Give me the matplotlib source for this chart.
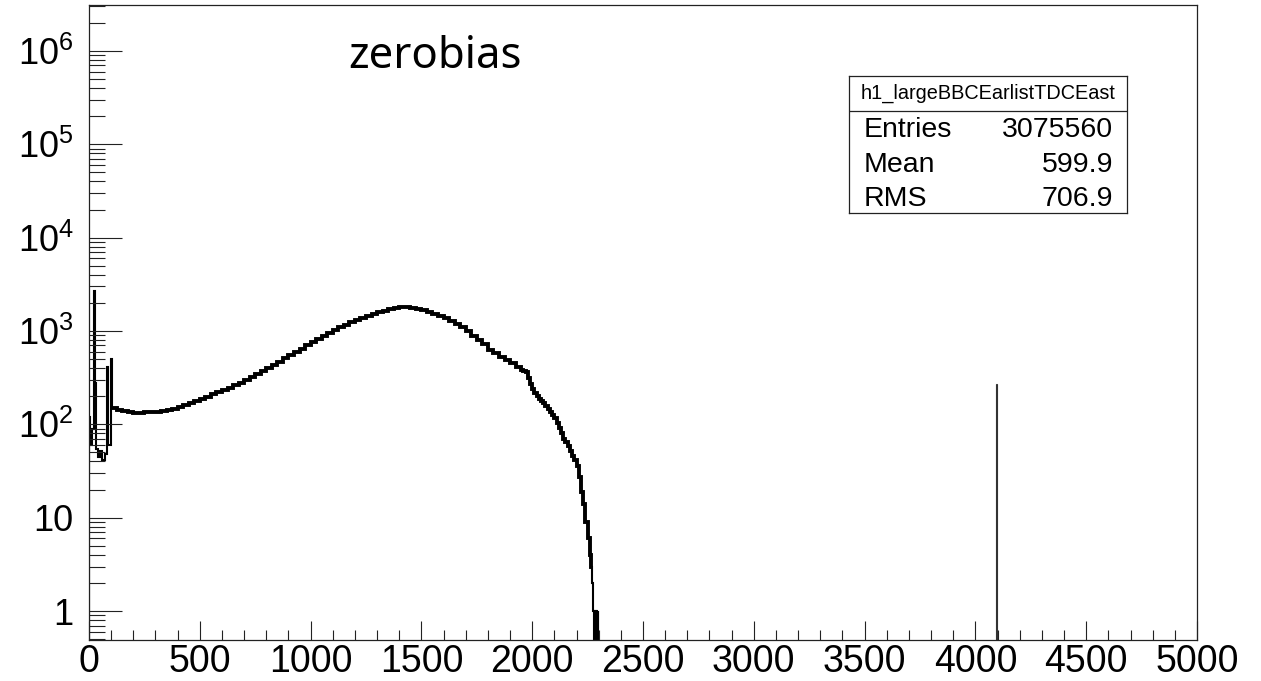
import numpy as np
import matplotlib
matplotlib.use("Agg")
import matplotlib.pyplot as plt
from matplotlib.ticker import MultipleLocator, LogLocator, NullFormatter, FixedLocator, FixedFormatter

plt.rcParams['font.family'] = ['Liberation Sans', 'DejaVu Sans']
plt.rcParams['mathtext.fontset'] = 'custom'
plt.rcParams['mathtext.rm'] = 'Liberation Sans'

# ---- histogram contents ----
# fine structure near zero
low_edges = [0, 4, 12, 23, 27, 32, 40, 50, 60, 70, 80, 84, 98, 102]
low_counts = [120, 60, 90, 2700, 275, 55, 45, 52, 42, 48, 415, 60, 500]

# main bump, 25-wide bins from 102 to 1950
bump_edges = [102] + list(range(125, 1951, 25))
bump_counts = [148, 142, 138, 134, 132, 133, 134, 135, 137, 140, 143, 147, 152,
               160, 168, 176, 185, 197, 210, 224, 236, 248, 262, 280, 300, 322,
               345, 370, 400, 432, 470, 510, 555, 600, 648, 700, 760, 820, 885,
               950, 1020, 1095, 1170, 1250, 1320, 1390, 1460, 1530, 1590, 1650,
               1710, 1770, 1820, 1810, 1770, 1720, 1660, 1590, 1520, 1450, 1380,
               1290, 1190, 1090, 990, 890, 800, 720, 630, 575, 530, 490, 450,
               410]

# steep fall, 10-wide bins from 1950 to 2200
fall_edges = list(range(1960, 2201, 10))
fall_counts = [385, 372, 360, 310, 270, 240, 215, 200, 188, 178, 168, 156, 146,
               136, 126, 116, 104, 92, 80, 70, 64, 58, 52, 46, 41]

# last few counts
tail_edges = [2210, 2220, 2230, 2240, 2250, 2260, 2266, 2272, 2276, 2280,
              2283, 2286, 2289, 2292, 2295, 2298]
tail_counts = [36, 27, 19, 14, 9, 6, 4, 3, 2, 1, 0, 1, 0, 1, 0, 1]

# isolated spike near the TDC overflow
spike_edges = [4094, 4096]
spike_counts = [270]

edges = np.array(low_edges + bump_edges[1:] + fall_edges + tail_edges, dtype=float)
counts = np.array(low_counts + bump_counts + fall_counts + tail_counts, dtype=float)

ytick_vals = [1, 10, 1e2, 1e3, 1e4, 1e5, 1e6]
ytick_labels = ['1', '10', r'$\mathdefault{10^{2}}$', r'$\mathdefault{10^{3}}$',
                r'$\mathdefault{10^{4}}$', r'$\mathdefault{10^{5}}$', r'$\mathdefault{10^{6}}$']

stats_name = 'h1_largeBBCEarlistTDCEast'
stats_rows = [('Entries', '3075560'), ('Mean', '599.9'), ('RMS', '706.9')]

W, H = 1261, 681
fig = plt.figure(figsize=(W / 100, H / 100), dpi=100)
ax = fig.add_axes([89 / W, 1 - 640 / H, (1197 - 89) / W, (640 - 5) / H])

floor = 1e-2  # empty bins drawn down past the bottom, like ROOT
shown = np.where(counts > 0, counts, floor)
ax.stairs(shown, edges, baseline=floor, color='black', lw=1.5)
# the dense part of the distribution looks thicker because of bin-to-bin noise
n_low = len(low_counts)
ax.stairs(shown[n_low:n_low + len(bump_counts) + len(fall_counts) + 8],
          edges[n_low:n_low + len(bump_counts) + len(fall_counts) + 9],
          baseline=None, color='black', lw=2.8)
ax.stairs(spike_counts, spike_edges, baseline=floor, color='#333333', lw=0.8)

ax.set_yscale('log')
ax.set_xlim(0, 5000)
ax.set_ylim(0.49, 3.1e6)

ax.xaxis.set_major_locator(MultipleLocator(500))
ax.xaxis.set_minor_locator(MultipleLocator(100))
ax.yaxis.set_major_locator(FixedLocator(ytick_vals))
ax.yaxis.set_major_formatter(FixedFormatter(ytick_labels))
ax.yaxis.set_minor_locator(LogLocator(base=10, subs=np.arange(2, 10), numticks=100))
ax.yaxis.set_minor_formatter(NullFormatter())

ax.tick_params(axis='both', which='both', direction='in', top=False, right=False,
               width=0.8, color='#222222')
ax.tick_params(axis='x', which='major', length=14, labelsize=27, pad=3)
ax.tick_params(axis='x', which='minor', length=7)
ax.tick_params(axis='y', which='major', length=24, labelsize=26, pad=11)
ax.tick_params(axis='y', which='minor', length=11.5)
for s in ax.spines.values():
    s.set_linewidth(0.9)
    s.set_color('#222222')

# stats box
box = fig.add_axes([849 / W, 1 - 213 / H, (1127 - 849) / W, (213 - 76) / H])
box.set_xticks([])
box.set_yticks([])
for s in box.spines.values():
    s.set_linewidth(0.9)
    s.set_color('#222222')
box.axhline(0.745, color='#222222', lw=0.9)
box.text(0.5, 0.875, stats_name, ha='center', va='center', fontsize=14.3)
for (name, val), yb in zip(stats_rows, [0.557, 0.301, 0.053]):
    box.text(0.054, yb, name, ha='left', va='baseline', fontsize=20.5)
    box.text(0.95, yb, val, ha='right', va='baseline', fontsize=20.5)

fig.text(348 / W, 1 - 68 / H, 'zerobias', fontsize=31.5, family='Noto Sans',
         ha='left', va='baseline')

fig.savefig('out.png', dpi=100)
